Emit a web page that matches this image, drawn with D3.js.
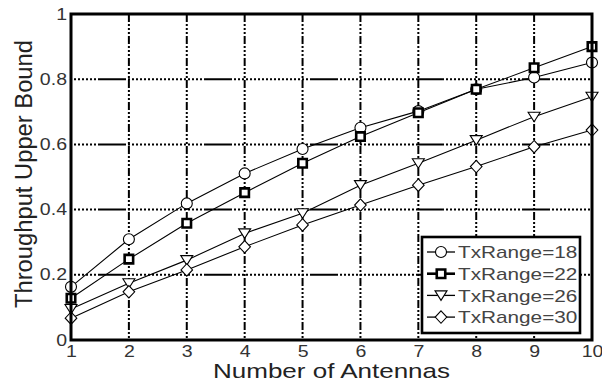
<!DOCTYPE html>
<html>
<head>
<meta charset="utf-8">
<script src="https://cdn.jsdelivr.net/npm/d3@7/dist/d3.min.js"></script>
<style>
    body { margin: 0; background: #fff; }
    svg { display: block; font-family: "Liberation Sans", Arial, sans-serif; }
    .series { fill: none; stroke: #000; stroke-width: 1.1; }
    .gridH { stroke: #000; stroke-width: 2; stroke-dashoffset: 49; }
    .gridV { stroke: #000; stroke-width: 2; }
</style>
</head>
<body>
<div id="chart"></div>
<script>
// data
var antennas = [1, 2, 3, 4, 5, 6, 7, 8, 9, 10];
var tx18 = [0.163, 0.309, 0.419, 0.511, 0.586, 0.651, 0.702, 0.769, 0.805, 0.851];
var tx22 = [0.128, 0.248, 0.358, 0.452, 0.542, 0.624, 0.697, 0.769, 0.835, 0.900];
var tx26 = [0.095, 0.174, 0.245, 0.327, 0.389, 0.475, 0.542, 0.613, 0.685, 0.746];
var tx30 = [0.067, 0.148, 0.215, 0.286, 0.353, 0.414, 0.475, 0.532, 0.593, 0.644];
var seriesNames = ["TxRange=18", "TxRange=22", "TxRange=26", "TxRange=30"];
var seriesMarkers = ["circle", "square", "triangle", "diamond"];
var xTicks = [1, 2, 3, 4, 5, 6, 7, 8, 9, 10];
var yTicks = [0, 0.2, 0.4, 0.6, 0.8, 1];
var yTickLabels = ["0", "0.2", "0.4", "0.6", "0.8", "1"];

var W = 602, H = 383;
var margin = { top: 14, right: 10, bottom: 43, left: 71 },
    width = W - margin.left - margin.right,
    height = H - margin.top - margin.bottom;
var stretch = 1.22; // the scanned figure is wider than tall

var x = d3.scaleLinear().domain([1, 10]).range([0, width]);
var y = d3.scaleLinear().domain([0, 1]).range([height, 0]);

var svg = d3.select("#chart").append("svg").attr("width", W).attr("height", H);
var g = svg.append("g").attr("transform", "translate(" + margin.left + "," + margin.top + ")");

// dash patterns of the grid
var dots = [];
for (var i = 0; i < 19; i++) dots.push(2, 2);
var hDash = dots.concat([28, 2]).join(",");
var vDash = "8,2,2,2,2,2,2,2";

g.selectAll(".gridH").data(yTicks.slice(1, -1)).enter().append("line")
    .attr("class", "gridH")
    .attr("x1", 0).attr("x2", width)
    .attr("y1", function(d) { return y(d); }).attr("y2", function(d) { return y(d); })
    .style("stroke-dasharray", hDash);

g.selectAll(".gridV").data(xTicks.slice(1, -1)).enter().append("line")
    .attr("class", "gridV")
    .attr("y1", 0).attr("y2", height)
    .attr("x1", function(d) { return x(d); }).attr("x2", function(d) { return x(d); })
    .style("stroke-dasharray", vDash);

function stretchText(sel, k) {
    sel.each(function() {
        var len = this.getComputedTextLength();
        d3.select(this).attr("textLength", len * k).attr("lengthAdjust", "spacingAndGlyphs");
    });
}

// axes
var xAxis = d3.axisBottom(x).tickValues(xTicks).tickSize(0).tickPadding(5.5);
var yAxis = d3.axisLeft(y).tickValues(yTicks).tickSize(0).tickPadding(4)
    .tickFormat(function(d, i) { return yTickLabels[i]; });

var gx = g.append("g").attr("transform", "translate(0," + height + ")").call(xAxis);
var gy = g.append("g").call(yAxis);
[gx, gy].forEach(function(a) {
    a.select(".domain").remove();
    a.selectAll("text").attr("font-size", 16).attr("font-family", "Liberation Sans, Arial, sans-serif").attr("fill", "#333");
    stretchText(a.selectAll("text"), stretch);
});

// markers
var symbolFor = {
    circle: d3.symbol().type(d3.symbolCircle).size(95),
    square: d3.symbol().type(d3.symbolSquare).size(72)
};
function drawMarker(sel, kind) {
    if (kind === "triangle") {
        sel.append("path").attr("d", "M-6,-4.5L6,-4.5L0,5Z")
            .attr("fill", "#fff").attr("stroke", "#000").attr("stroke-width", 1.1);
    } else if (kind === "diamond") {
        sel.append("path").attr("d", "M0,-6.2L5.8,0L0,6.2L-5.8,0Z")
            .attr("fill", "#fff").attr("stroke", "#000").attr("stroke-width", 1.1);
    } else {
        sel.append("path").attr("d", symbolFor[kind]())
            .attr("fill", "#fff").attr("stroke", "#000")
            .attr("stroke-width", kind === "square" ? 2.6 : 1.1);
    }
}

var line = d3.line()
    .x(function(d) { return x(d.n); })
    .y(function(d) { return y(d.v); });

var allSeries = [tx18, tx22, tx26, tx30].map(function(vals, i) {
    return {
        name: seriesNames[i],
        marker: seriesMarkers[i],
        values: vals.map(function(v, j) { return { n: antennas[j], v: v }; })
    };
});

allSeries.forEach(function(s) {
    g.append("path").attr("class", "series").attr("d", line(s.values));
});
allSeries.forEach(function(s) {
    s.values.forEach(function(d) {
        var m = g.append("g").attr("transform", "translate(" + x(d.n) + "," + y(d.v) + ")");
        drawMarker(m, s.marker);
    });
});

// frame
g.append("rect").attr("width", width).attr("height", height)
    .attr("fill", "none").attr("stroke", "#000").attr("stroke-width", 3);

// axis titles
var xt = svg.append("text")
    .attr("x", margin.left + width / 2).attr("y", 378)
    .attr("text-anchor", "middle").attr("font-size", 21).attr("fill", "#222")
    .text("Number of Antennas");
xt.attr("textLength", 237).attr("lengthAdjust", "spacingAndGlyphs");

var yt = svg.append("text")
    .attr("transform", "translate(32," + 174 + ") rotate(-90)")
    .attr("text-anchor", "middle").attr("font-size", 23).attr("fill", "#222")
    .text("Throughput Upper Bound");
yt.attr("textLength", 268).attr("lengthAdjust", "spacingAndGlyphs");

// legend
var legend = svg.append("g").attr("transform", "translate(422,237)");
legend.append("rect").attr("width", 158).attr("height", 96)
    .attr("fill", "#fff").attr("stroke", "#000").attr("stroke-width", 2.6);
allSeries.forEach(function(s, i) {
    var row = legend.append("g").attr("transform", "translate(0," + (15 + i * 21.7) + ")");
    row.append("line").attr("x1", 5).attr("x2", 33).attr("y1", 0).attr("y2", 0)
        .attr("stroke", "#000").attr("stroke-width", s.marker === "square" ? 2.6 : 1.3);
    var m = row.append("g").attr("transform", "translate(19,0)");
    drawMarker(m, s.marker);
    var t = row.append("text").attr("x", 36).attr("y", 0).attr("dy", "0.36em")
        .attr("font-size", 17).attr("fill", "#444").text(s.name);
    stretchText(t, stretch);
});
</script>
</body>
</html>
